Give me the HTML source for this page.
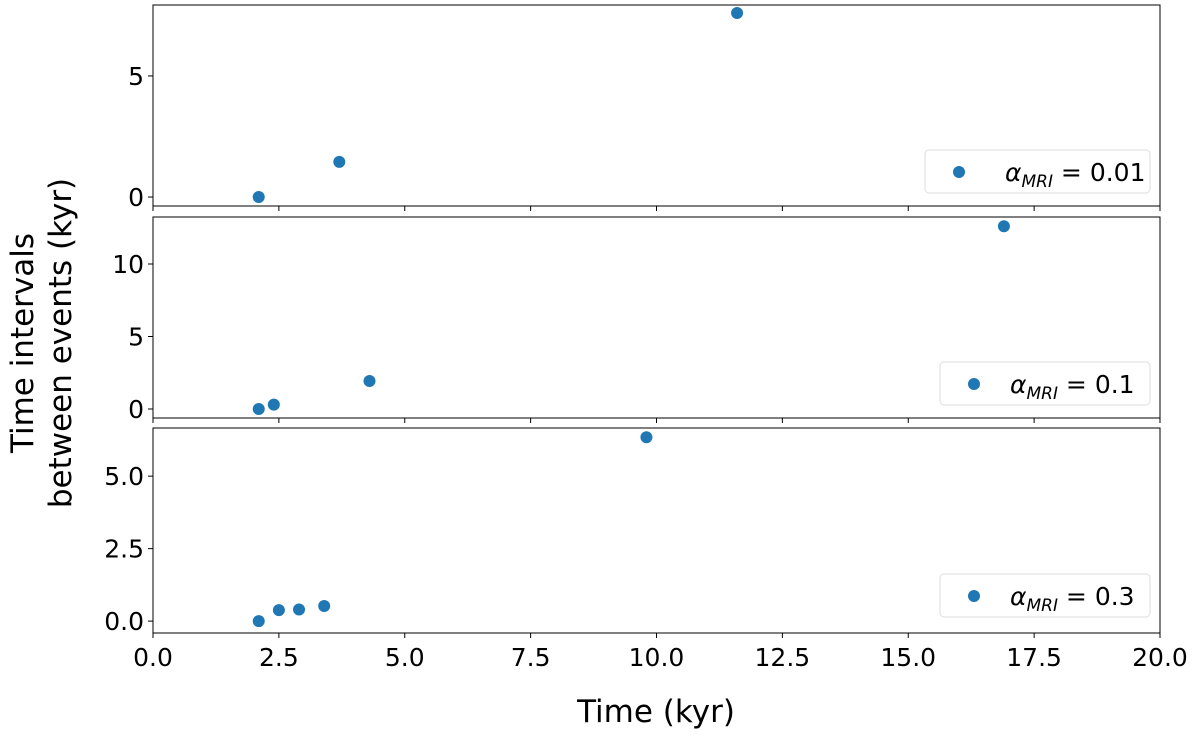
<!DOCTYPE html>
<html><head><meta charset="utf-8"><style>body{margin:0;background:#fff}svg text{font-family:"DejaVu Sans","Liberation Sans",sans-serif;fill:#000}</style></head>
<body>
<svg id="c" width="1200" height="735" xmlns="http://www.w3.org/2000/svg"></svg>
<script>
const xTicks=[0,2.5,5,7.5,10,12.5,15,17.5,20];
const xTickLabels=["0.0","2.5","5.0","7.5","10.0","12.5","15.0","17.5","20.0"];
const p1X=[2.1,3.7,11.6];
const p1Y=[0,1.45,7.6];
const p2X=[2.1,2.4,4.3,16.9];
const p2Y=[0,0.3,1.93,12.6];
const p3X=[2.1,2.5,2.9,3.4,9.8];
const p3Y=[0,0.38,0.4,0.52,6.34];
const p1Ticks=[0,5], p1TickLabels=["0","5"];
const p2Ticks=[0,5,10], p2TickLabels=["0","5","10"];
const p3Ticks=[0,2.5,5], p3TickLabels=["0.0","2.5","5.0"];
const legendLabels=["0.01","0.1","0.3"];

const svg=document.getElementById('c');
const NS="http://www.w3.org/2000/svg";
function mk(t,a,p){const e=document.createElementNS(NS,t);for(const k in a)e.setAttribute(k,a[k]);(p||svg).appendChild(e);return e;}
const L=153,R=1160;
const sx=v=>L+(v-0)/(20-0)*(R-L);
const panels=[
 {top:5,bot:206,ymin:-0.37,ymax:7.93,xs:p1X,ys:p1Y,ticks:p1Ticks,labels:p1TickLabels,leg:[925,150,225,43],lab:legendLabels[0]},
 {top:217,bot:418,ymin:-0.62,ymax:13.24,xs:p2X,ys:p2Y,ticks:p2Ticks,labels:p2TickLabels,leg:[940,362,210,43],lab:legendLabels[1]},
 {top:428,bot:633,ymin:-0.41,ymax:6.66,xs:p3X,ys:p3Y,ticks:p3Ticks,labels:p3TickLabels,leg:[940,574,210,43],lab:legendLabels[2]}
];
panels.forEach((p,i)=>{
 const g=mk('g',{});
 
 
 const sy=v=>p.bot-(v-p.ymin)/(p.ymax-p.ymin)*(p.bot-p.top);
 const f=mk('rect',{x:L,y:p.top,width:R-L,height:p.bot-p.top,fill:'none',stroke:'#000','stroke-width':1},g);
 
 
 xTicks.forEach((t,j)=>{
  const tk=mk('line',{x1:sx(t),x2:sx(t),y1:p.bot,y2:p.bot+5,stroke:'#000'},g);
  
  
  if(i==2){const tx=mk('text',{x:sx(t),y:p.bot+33,'font-size':25,'text-anchor':'middle'},g);tx.textContent=xTickLabels[j];
   
   }
 });
 p.ticks.forEach((t,j)=>{
  mk('line',{x1:L-5,x2:L,y1:sy(t),y2:sy(t),stroke:'#000'},g);
  const tx=mk('text',{x:L-9,y:sy(t)+9,'font-size':25,'text-anchor':'end'},g);tx.textContent=p.labels[j];
  
  
 });
 p.xs.forEach((x,j)=>{
  const c=mk('circle',{cx:sx(x),cy:sy(p.ys[j]),r:6,fill:'#1f77b4'},g);
  
  
 });
 const lg=mk('g',{},g);
 
 
 const [lx,ly,lw,lh]=p.leg;
 mk('rect',{x:lx,y:ly,width:lw,height:lh,rx:4,fill:'#fff',stroke:'#ddd'},lg);
 mk('circle',{cx:lx+34,cy:ly+22,r:6,fill:'#1f77b4'},lg);
 const t=mk('text',{x:lw>215?lx+80:lx+70,y:ly+31,'font-size':25},lg);
 t.innerHTML='<tspan font-style="italic">α</tspan><tspan font-size="17" font-style="italic" dy="6">MRI</tspan><tspan dy="-6"> = '+p.lab+'</tspan>';
});
const xl=mk('text',{x:656,y:722,'font-size':31,'text-anchor':'middle'});xl.textContent='Time (kyr)';


const yl=mk('text',{transform:'translate(33,343) rotate(-90)','font-size':31,'text-anchor':'middle'});
yl.innerHTML='<tspan x="0" dy="0">Time intervals</tspan><tspan x="0" dy="38">between events (kyr)</tspan>';


</script>
</body></html>
